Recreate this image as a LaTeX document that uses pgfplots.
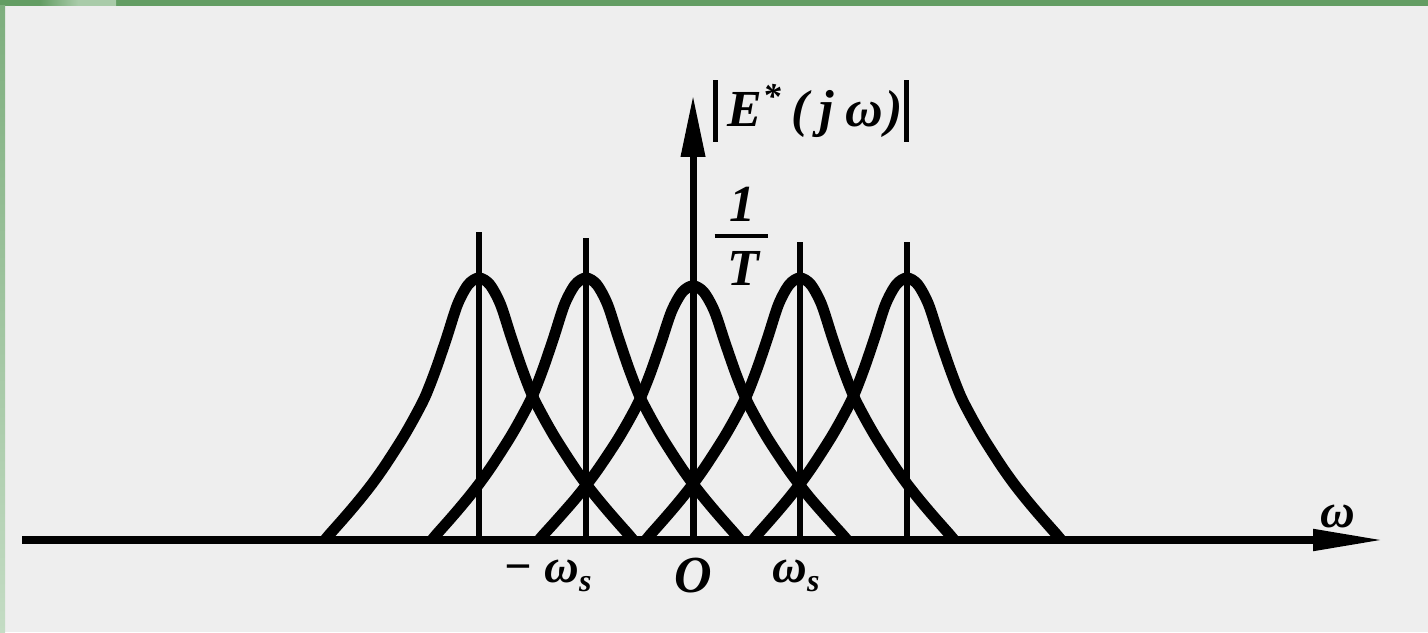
\documentclass[border=0pt]{standalone}
\usepackage{pgfplots}
\pgfplotsset{compat=1.18}
\usetikzlibrary{arrows.meta}
\usepackage{fontspec}
\setmainfont{Liberation Serif}
\definecolor{panel}{HTML}{EEEEEE}
\definecolor{frametop}{HTML}{639D63}
\definecolor{frameleftA}{HTML}{7DAE7D}
\definecolor{frameleftB}{HTML}{C4DCC4}
\definecolor{framelight}{HTML}{A9CBA9}

\newcommand{\lblfont}{\fontsize{24pt}{28pt}\selectfont\bfseries\itshape}
\newcommand{\bigfont}{\fontsize{26pt}{30pt}\selectfont\bfseries\itshape}

\begin{document}
\begin{tikzpicture}
\useasboundingbox (0,0) rectangle (714pt,316pt);
% page panel and its green frame
\fill[panel] (0,0) rectangle (714pt,316pt);
\fill[frametop] (0,313pt) rectangle (714pt,316pt);
\shade[left color=frametop, right color=framelight, middle color=framelight] (20pt,313pt) rectangle (58pt,316pt);
\shade[top color=frameleftA, bottom color=frameleftB] (0,0) rectangle (2.5pt,313pt);

\begin{axis}[
  at={(11pt,46pt)}, anchor=south west,
  scale only axis, width=681.5pt, height=222.5pt,
  xmin=-6.271, xmax=6.467, ymin=0, ymax=1.698,
  enlargelimits=false, clip=false,
  axis lines=middle, xtick=\empty, ytick=\empty,
  x axis line style={line width=4pt, -{Triangle[length=36pt,width=10pt]}},
  every inner x axis line/.append style={line width=4pt, -{Triangle[length=36pt,width=10pt]}},
  y axis line style={line width=3.5pt, -{Triangle[length=31pt,width=11.5pt]}},
  every inner y axis line/.append style={line width=3.5pt, -{Triangle[length=31pt,width=11.5pt]}},
  spectrum/.style={black, line width=5.5pt, smooth, tension=0.5, line join=round},
]

% spectral lines of the sampling impulses
\addplot[ycomb, black, line width=3pt] coordinates {
  (-2,1.176) (-1,1.153) (1,1.137) (2,1.137)
};

% shifted copies of the spectrum
\addplot[spectrum] coordinates {
  (-3.44,0) (-3.4,0.020) (-3.3,0.066) (-3.2,0.113) (-3.1,0.162) (-3.0,0.214) (-2.9,0.271)
  (-2.8,0.333) (-2.7,0.398) (-2.6,0.47) (-2.5,0.55) (-2.4,0.655) (-2.3,0.775) (-2.2,0.90)
  (-2.1,0.975) (-2,1) (-1.9,0.975) (-1.8,0.90) (-1.7,0.775) (-1.6,0.655) (-1.5,0.55)
  (-1.4,0.47) (-1.3,0.398) (-1.2,0.333) (-1.1,0.271) (-1.0,0.214) (-0.9,0.162)
  (-0.8,0.113) (-0.7,0.066) (-0.6,0.020) (-0.56,0)
};
\addplot[spectrum] coordinates {
  (-2.44,0) (-2.4,0.020) (-2.3,0.066) (-2.2,0.113) (-2.1,0.162) (-2.0,0.214) (-1.9,0.271)
  (-1.8,0.333) (-1.7,0.398) (-1.6,0.47) (-1.5,0.55) (-1.4,0.655) (-1.3,0.775) (-1.2,0.90)
  (-1.1,0.975) (-1,1) (-0.9,0.975) (-0.8,0.90) (-0.7,0.775) (-0.6,0.655) (-0.5,0.55)
  (-0.4,0.47) (-0.3,0.398) (-0.2,0.333) (-0.1,0.271) (0,0.214) (0.1,0.162)
  (0.2,0.113) (0.3,0.066) (0.4,0.020) (0.44,0)
};
\addplot[spectrum] coordinates {
  (-1.44,0) (-1.4,0.019) (-1.3,0.064) (-1.2,0.110) (-1.1,0.157) (-1.0,0.208) (-0.9,0.263)
  (-0.8,0.323) (-0.7,0.386) (-0.6,0.456) (-0.5,0.534) (-0.4,0.635) (-0.3,0.752) (-0.2,0.873)
  (-0.1,0.946) (0,0.97) (0.1,0.946) (0.2,0.873) (0.3,0.752) (0.4,0.635) (0.5,0.534)
  (0.6,0.456) (0.7,0.386) (0.8,0.323) (0.9,0.263) (1.0,0.208) (1.1,0.157)
  (1.2,0.110) (1.3,0.064) (1.4,0.019) (1.44,0)
};
\addplot[spectrum] coordinates {
  (-0.44,0) (-0.4,0.020) (-0.3,0.066) (-0.2,0.113) (-0.1,0.162) (0,0.214) (0.1,0.271)
  (0.2,0.333) (0.3,0.398) (0.4,0.47) (0.5,0.55) (0.6,0.655) (0.7,0.775) (0.8,0.90)
  (0.9,0.975) (1,1) (1.1,0.975) (1.2,0.90) (1.3,0.775) (1.4,0.655) (1.5,0.55)
  (1.6,0.47) (1.7,0.398) (1.8,0.333) (1.9,0.271) (2.0,0.214) (2.1,0.162)
  (2.2,0.113) (2.3,0.066) (2.4,0.020) (2.44,0)
};
\addplot[spectrum] coordinates {
  (0.56,0) (0.6,0.020) (0.7,0.066) (0.8,0.113) (0.9,0.162) (1.0,0.214) (1.1,0.271)
  (1.2,0.333) (1.3,0.398) (1.4,0.47) (1.5,0.55) (1.6,0.655) (1.7,0.775) (1.8,0.90)
  (1.9,0.975) (2,1) (2.1,0.975) (2.2,0.90) (2.3,0.775) (2.4,0.655) (2.5,0.55)
  (2.6,0.47) (2.7,0.398) (2.8,0.333) (2.9,0.271) (3.0,0.214) (3.1,0.162)
  (3.2,0.113) (3.3,0.066) (3.4,0.020) (3.44,0)
};

% axis titles
\node[anchor=base west, inner sep=0, font=\bigfont] at (axis cs:0.187,1.576)
  {\rule[-7.5pt]{2.2pt}{31pt}\hspace{5pt}E\textsuperscript{*}\hspace{5pt}(\hspace{5pt}j\hspace{6pt}ω\hspace{1pt})\hspace{1pt}\rule[-7.5pt]{2.2pt}{31pt}};
\node[anchor=base west, inner sep=0, font=\lblfont] at (axis cs:5.86,0.046) {ω};

% peak value 1/T
\node[anchor=base, inner sep=0, font=\bigfont] at (axis cs:0.458,1.214) {1};
\node[inner sep=0] at (axis cs:0.449,1.160) {\rule{26.5pt}{2.2pt}};
\node[anchor=base, inner sep=0, font=\bigfont] at (axis cs:0.467,0.973) {T};

% frequency marks
\node[anchor=base west, inner sep=0, font=\lblfont] at (axis cs:-1.776,-0.164)
  {−\hspace{6pt}ω\raisebox{-4.5pt}{\fontsize{16pt}{18pt}\selectfont s}};
\node[anchor=base, inner sep=0, font=\bigfont] at (axis cs:0,-0.202) {O};
\node[anchor=base west, inner sep=0, font=\lblfont] at (axis cs:0.738,-0.164)
  {ω\raisebox{-4.5pt}{\fontsize{16pt}{18pt}\selectfont s}};
\end{axis}
\end{tikzpicture}
\end{document}
